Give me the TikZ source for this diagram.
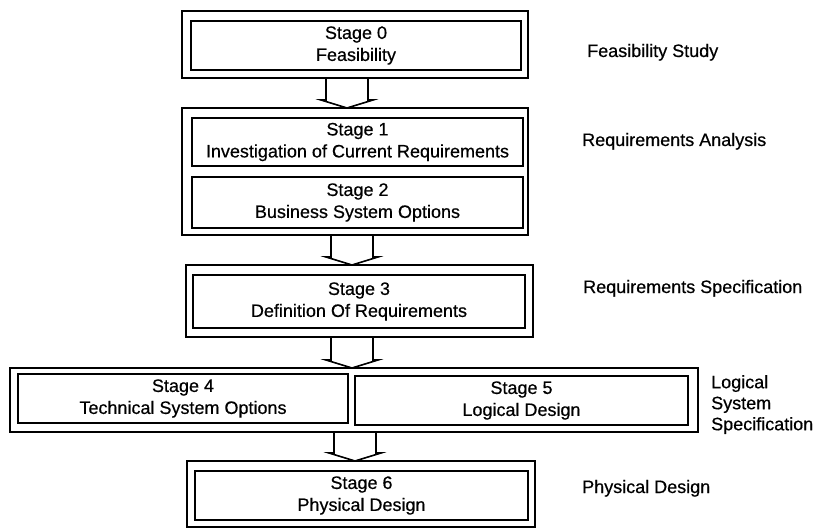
\documentclass[tikz,border=0pt]{standalone}
\usepackage{fontspec}
\setmainfont{Liberation Sans}
\newfontfamily\heavysans{Liberation Sans}[FakeBold=0.5]
\usetikzlibrary{calc}
\tikzset{
  boxline/.style={draw=black, line width=1.6pt, inner sep=0pt, outer sep=0pt, fill=none},
  outerbox/.style={boxline},
  innerbox/.style={boxline, align=center, font=\heavysans\fontsize{18}{22}\selectfont},
  sidelabel/.style={inner sep=0pt, font=\heavysans\fontsize{18}{21}\selectfont},
  stagearr/.style={draw=black, line width=1.6pt, line join=miter}
}
\newcommand{\stagearrow}[3]{%
  \draw[stagearr] let \p1=(#1.south), \p2=(#2.north) in
    (#3-21pt,\y1) -- (#3-21pt,\y2+8pt) -- (#3-26pt,\y2+8pt) -- (#3,\y2)
    -- (#3+26pt,\y2+8pt) -- (#3+21pt,\y2+8pt) -- (#3+21pt,\y1);}
\begin{document}
\begin{tikzpicture}[x=1pt,y=-1pt]
\path[use as bounding box, fill=white] (0,0) rectangle (816,529);

% Stage 0
\node[outerbox, minimum width=346pt, minimum height=67pt] (s0o) at (355,44.5) {};
\node[innerbox, minimum width=330pt, minimum height=49pt] (s0) at (356,45.5) {Stage 0\\Feasibility};

% Stage 1 / 2
\node[outerbox, minimum width=346pt, minimum height=127pt] (s12o) at (355,171.5) {};
\node[innerbox, minimum width=331pt, minimum height=48pt] (s1) at (357.5,142) {Stage 1\\Investigation of Current Requirements};
\node[innerbox, minimum width=331pt, minimum height=51pt] (s2) at (357.5,202.5) {Stage 2\\Business System Options};

% Stage 3
\node[outerbox, minimum width=347pt, minimum height=72pt] (s3o) at (359.5,301) {};
\node[innerbox, minimum width=332pt, minimum height=53pt] (s3) at (359,301.5) {Stage 3\\Definition Of Requirements};

% Stage 4 / 5
\node[outerbox, minimum width=688pt, minimum height=64pt] (s45o) at (354,400) {};
\node[innerbox, minimum width=330pt, minimum height=49pt] (s4) at (183,398.5) {Stage 4\\Technical System Options};
\node[innerbox, minimum width=333pt, minimum height=49pt] (s5) at (521.5,400.5) {Stage 5\\Logical Design};

% Stage 6
\node[outerbox, minimum width=348pt, minimum height=66pt] (s6o) at (361,494) {};
\node[innerbox, minimum width=333pt, minimum height=49pt] (s6) at (361.5,495.5) {Stage 6\\Physical Design};

% Block arrows
\stagearrow{s0o}{s12o}{347pt}
\stagearrow{s12o}{s3o}{352pt}
\stagearrow{s3o}{s45o}{352pt}
\stagearrow{s45o}{s6o}{355pt}

% Side labels
\node[sidelabel, anchor=base west] (l0) at (587,57) {Feasibility Study};
\node[sidelabel, anchor=base west] (l12) at (582,146) {Requirements Analysis};
\node[sidelabel, anchor=base west] (l3) at (583,293) {Requirements Specification};
\node[sidelabel, anchor=north west, align=left] (l45) at (711,375) {Logical\\System\\Specification};
\node[sidelabel, anchor=base west] (l6) at (582,493) {Physical Design};
\end{tikzpicture}
\end{document}
